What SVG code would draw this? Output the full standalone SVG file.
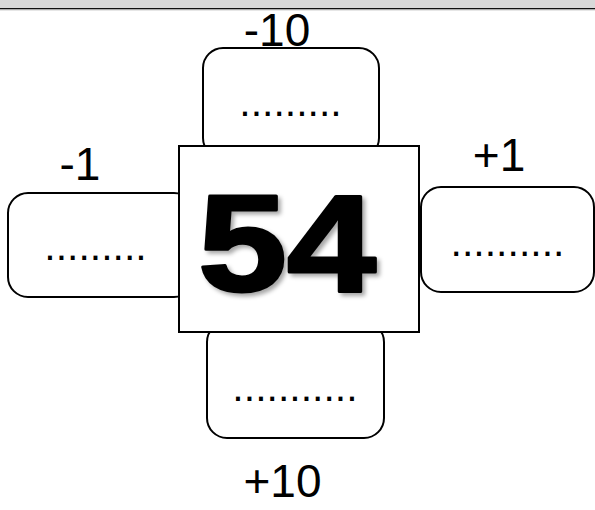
<svg xmlns="http://www.w3.org/2000/svg" width="595" height="510" viewBox="0 0 595 510">
  <style>
    .box { fill: #ffffff; stroke: #000000; stroke-width: 2; }
    .dots { font-family: "Liberation Sans", Arial, sans-serif; font-size: 41px; fill: #000000; text-anchor: middle; }
    .lbl { font-family: "Liberation Sans", Arial, sans-serif; font-size: 46px; fill: #000000; text-anchor: middle; }
    .big { font-family: "Liberation Sans", Arial, sans-serif; font-size: 137px; font-weight: bold; fill: #000000; stroke: #000000; stroke-width: 3; stroke-linejoin: round; }
  </style>
  <defs>
    <filter id="shadow" x="-10%" y="-10%" width="130%" height="130%">
      <feDropShadow dx="3" dy="3" stdDeviation="2" flood-color="#000000" flood-opacity="0.35"/>
    </filter>
  </defs>
  <rect x="0" y="0" width="595" height="510" fill="#ffffff"/>
  <g id="topbar">
    <rect x="0" y="0" width="595" height="8" fill="#d9d9d9"/>
    <line x1="0" y1="8.6" x2="595" y2="8.6" stroke="#111111" stroke-width="1.3"/>
    <line x1="0" y1="9.8" x2="595" y2="9.8" stroke="#9a9a9a" stroke-width="0.8"/>
  </g>
  <g id="connectors"></g>
  <g id="node-top">
    <rect class="box" x="203" y="48" width="176" height="110" rx="20" ry="20"/>
    <text class="dots" x="290.5" y="116">.........</text>
  </g>
  <g id="node-left">
    <rect class="box" x="8" y="193" width="186" height="104" rx="20" ry="20"/>
    <text class="dots" x="95.5" y="260">.........</text>
  </g>
  <g id="node-right">
    <rect class="box" x="421" y="187" width="173" height="105" rx="20" ry="20"/>
    <text class="dots" x="507.5" y="256">..........</text>
  </g>
  <g id="node-bottom">
    <rect class="box" x="207" y="322" width="177" height="116" rx="20" ry="20"/>
    <text class="dots" x="295" y="401">...........</text>
  </g>
  <g id="node-center">
    <rect class="box" x="179" y="146" width="240" height="186"/>
    <text class="big" x="198" y="291" textLength="178" lengthAdjust="spacingAndGlyphs" filter="url(#shadow)">54</text>
  </g>
  <g id="labels">
    <text class="lbl" x="277" y="46">-10</text>
    <text class="lbl" x="80" y="180">-1</text>
    <text class="lbl" x="499" y="171">+1</text>
    <text class="lbl" x="282.5" y="497">+10</text>
  </g>
</svg>
